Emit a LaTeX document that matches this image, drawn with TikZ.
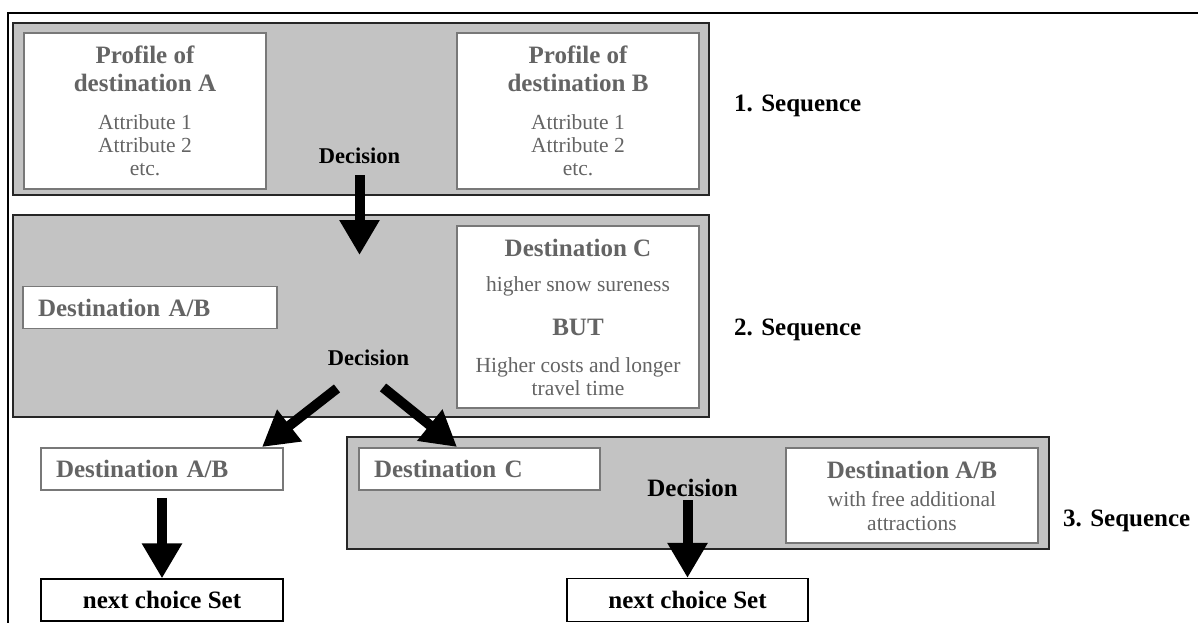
\documentclass[tikz,border=0pt]{standalone}
\usepackage{fontspec}
\setmainfont{Liberation Serif}
\usetikzlibrary{arrows.meta,positioning}
\definecolor{seqgrey}{RGB}{195,195,195}
\definecolor{txtgrey}{RGB}{100,100,100}
\definecolor{rimgrey}{RGB}{120,120,120}
\newcommand{\ttlfont}{\fontsize{25}{28}\selectfont\bfseries}
\newcommand{\txtfont}{\fontsize{21.5}{23}\selectfont}
\newcommand{\decfont}{\fontsize{22.5}{26}\selectfont\bfseries}
\begin{document}
\begin{tikzpicture}[x=1pt, y=-1pt,
    seqbox/.style={draw=black!85, fill=seqgrey, line width=1.2pt, inner sep=0pt},
    destbox/.style={draw=rimgrey, fill=white, line width=1.6pt, text=txtgrey, font=\txtfont, align=center, inner sep=0pt},
    singlebox/.style={destbox, font=\ttlfont, align=left, text width=#1, inner xsep=15pt, minimum height=42pt},
    nextbox/.style={draw=black, fill=white, line width=1.2pt, font=\ttlfont, inner sep=0pt, minimum width=242pt, minimum height=42pt},
    decision/.style={font=\decfont, anchor=base, inner sep=0pt},
    seqlabel/.style={font=\ttlfont, anchor=base west, inner sep=0pt},
    bigarrow/.style={line width=10pt, -{Triangle[width=38pt, length=35pt]}}]
    \useasboundingbox (0,0) rectangle (1198,623);
    \draw[line width=1.2pt] (8,623) -- (8,13) -- (1198,13);
    % Place nodes
    % 1. sequence
    \node[seqbox, minimum width=696pt, minimum height=172pt] (seq1) at (361,109) {};
    \node[destbox, minimum width=242pt, minimum height=156pt] (profA) at (145,111)
        {{\ttlfont Profile of}\\[5pt]{\ttlfont destination A}\\[15pt]Attribute 1\\Attribute 2\\etc.};
    \node[destbox, minimum width=242pt, minimum height=156pt] (profB) at (578,111)
        {{\ttlfont Profile of}\\[5pt]{\ttlfont destination B}\\[15pt]Attribute 1\\Attribute 2\\etc.};
    \node[decision] (dec1) at (359.5,163) {Decision};
    \node[seqlabel] (lab1) at (734,112) {1. Sequence};
    % 2. sequence
    \node[seqbox, minimum width=696pt, minimum height=202pt] (seq2) at (361,316) {};
    \node[singlebox=224pt] (destab2) at (150,307.5) {Destination A/B};
    \node[destbox, minimum width=242pt, minimum height=182pt] (destC) at (578,317)
        {{\ttlfont Destination C}\\[12pt]higher snow sureness\\[21pt]{\ttlfont BUT}\\[14pt]Higher costs and longer\\travel time};
    \node[decision] (dec2) at (368.5,365) {Decision};
    \node[seqlabel] (lab2) at (734,335) {2. Sequence};
    % 3. sequence
    \node[singlebox=212pt] (destab3) at (162,469) {Destination A/B};
    \node[nextbox] (nextl) at (162,600) {next choice Set};
    \node[seqbox, minimum width=702pt, minimum height=112pt] (seq3) at (698,493) {};
    \node[singlebox=211pt] (destc3) at (479.5,469) {Destination C};
    \node[destbox, minimum width=252pt, minimum height=95pt] (destabx) at (912,495.5)
        {{\ttlfont Destination A/B}\\[5pt]with free additional\\[1pt]attractions};
    \node[decision, font=\ttlfont] (dec3) at (692.5,496) {Decision};
    \node[nextbox, minimum width=241pt, minimum height=43pt] (nextr) at (687.5,600) {next choice Set};
    \node[seqlabel] (lab3) at (1063,526) {3. Sequence};
    \coordinate (t1) at (359.5,255);
    \coordinate (t2) at (262,447);
    \coordinate (t3) at (457,447);
    % Create edges
      \draw[bigarrow, shorten <=12pt] (dec1.south) -- (t1);
      \draw[bigarrow] (dec2.south) ++(-31.5,23) -- (t2);
      \draw[bigarrow] (dec2.south) ++(14.5,22) -- (t3);
      \draw[bigarrow, shorten <=7pt] (destab3.south) -- (nextl.north);
      \draw[bigarrow, shorten <=4pt] (nextr.north |- dec3.south) -- (nextr.north);
\end{tikzpicture}
\end{document}
